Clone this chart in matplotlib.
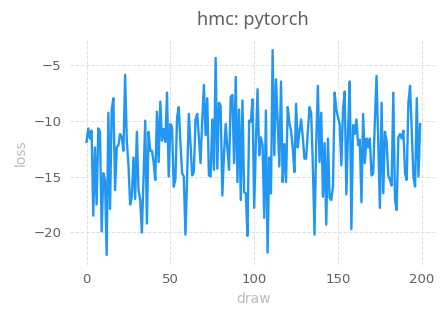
import numpy as np
import matplotlib
matplotlib.use('Agg')
import matplotlib.pyplot as plt

# loss per draw
loss_a = [-11.9, -10.7, -11.6, -10.9, -18.5, -12.4, -17.5, -10.7, -11.0, -19.9,
          -14.7, -15.3, -22.0, -9.3, -17.9, -9.0, -8.0, -16.2, -12.4, -12.2,
          -11.2, -11.5, -12.7, -5.9]
loss_b = [-11.8, -14.0, -17.5, -16.8, -13.3, -17.0, -11.0, -16.2, -17.1, -20.0,
          -15.0, -10.0, -19.2, -11.0, -12.7, -12.7, -13.7, -15.3, -9.2, -13.7,
          -8.3, -11.8, -10.75, -11.9, -7.5]
loss_c = [-15.0, -10.3, -10.6, -15.9, -15.3, -9.7, -8.8, -12.0, -14.7, -15.0,
          -20.2, -15.0, -9.4, -12.0, -14.9, -14.6, -9.9, -9.4, -11.5, -13.8,
          -10.0, -6.8, -11.3, -8.0, -14.9]
loss_d = [-15.0, -9.9, -14.4, -4.4, -14.3, -8.4, -8.7, -16.7, -13.0, -10.3,
          -12.5, -14.4, -7.9, -7.7, -13.8, -6.1, -15.5, -9.0, -17.1, -8.2,
          -16.4, -16.5, -20.3, -10.0, -10.1]
loss_e = [-8.1, -17.8, -12.0, -7.2, -13.1, -11.5, -12.2, -18.7, -9.1, -21.8,
          -13.3, -16.5, -3.7, -13.1, -6.3, -10.0, -14.1, -6.5, -15.5, -12.1,
          -15.5, -8.8, -10.2, -10.9, -12.5, -14.6]
loss_f = [-8.5, -12.4, -11.0, -9.9, -11.5, -13.4, -13.4, -11.0, -8.8, -9.3,
          -14.0, -20.2, -12.0, -6.9]
loss_g = [-13.7, -9.3, -16.8, -12.0, -19.3, -11.6, -16.9, -17.1, -15.9, -7.5,
          -9.0, -9.7, -10.3, -14.0, -9.0, -7.4, -16.6, -11.0, -6.5, -19.7,
          -10.4, -11.2, -9.9, -12.2, -11.7, -17.3, -9.4, -13.8, -11.6, -12.4,
          -11.6, -14.9, -14.7, -10.0, -6.0, -12.0, -17.8, -8.4, -16.5, -11.0,
          -11.8, -14.9, -15.3, -15.8, -7.5, -17.1, -18.0, -11.5, -11.2, -11.6,
          -10.9, -14.7, -15.3, -8.4, -6.9, -11.0, -15.0, -15.9, -8.0, -15.0,
          -10.3]

loss = loss_a + loss_b + loss_c + loss_d + loss_e + loss_f + loss_g
draw = np.arange(len(loss))

plt.rcParams['font.family'] = ['DejaVu Sans']

fig = plt.figure(figsize=(4.48, 3.19), dpi=100)
ax = fig.add_axes([0.156, 0.169, 0.819, 0.706])

ax.plot(draw, loss, color='#2196F3', linewidth=1.7)

ax.grid(True, linestyle='--', color='#e0e0e0', linewidth=0.7)
ax.set_axisbelow(True)
for s in ax.spines.values():
    s.set_visible(False)
ax.tick_params(length=0, labelsize=9.5, colors='#606060', pad=6)
ax.set_xticks([0, 50, 100, 150, 200])
ax.set_yticks([-20, -15, -10, -5])
ax.set_yticklabels(['\u221220', '\u221215', '\u221210', '\u22125'])

ax.set_xlabel('draw', color='#bbbbbb', fontsize=10, labelpad=4)
ax.set_ylabel('loss', color='#bbbbbb', fontsize=10, labelpad=4)
ax.set_title('hmc: pytorch', color='#606060', fontsize=13, pad=11,
             family=['Noto Sans', 'DejaVu Sans'])

fig.savefig('out.png', dpi=100)
